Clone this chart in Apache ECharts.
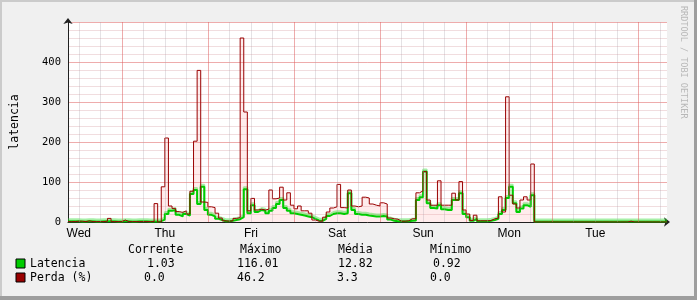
<!DOCTYPE html>
<html>
<head>
<meta charset="utf-8">
<script src="https://cdn.jsdelivr.net/npm/echarts@6/dist/echarts.min.js"></script>
<style>
html,body{margin:0;padding:0;background:#f0f0f0;}
#chart{width:697px;height:300px;}
</style>
</head>
<body>
<div id="chart"></div>
<script>
// ---- data (hourly, starting Wed 09:00; hours counted from Wed 00:00) ----
const startHour = 9;
const dayNames = ['Wed', 'Thu', 'Fri', 'Sat', 'Sun', 'Mon', 'Tue'];
const yTickLabels = [0, 100, 200, 300, 400];

const perda = [
  1, 1, 2, 2, 1, 3, 1, 1, 1, 1, 2, 9, 1, 1, 1, 5, 1, 1, 1, 1, 1, 1, 1, 1,
  46, 0, 88, 210, 40, 34, 26, 24, 28, 20, 77, 202, 379, 50, 49, 38, 36, 22, 10, 3,
  2, 3, 9, 11, 460, 275, 28, 59, 30, 32, 30, 32, 80, 58, 60, 87, 55, 73, 42, 33,
  40, 28, 28, 22, 5, 2, 2, 12, 25, 35, 38, 94, 36, 35, 80, 40, 38, 40, 62, 60,
  45, 42, 40, 48, 45, 10, 8, 7, 2, 2, 3, 8, 8, 73, 78, 126, 55, 42, 42, 103,
  42, 42, 42, 72, 55, 101, 30, 20, 4, 17, 3, 3, 3, 4, 8, 10, 63, 25, 313, 67,
  45, 35, 55, 63, 55, 145, 0, 0, 0, 0, 0, 0, 0, 0, 0, 0, 0, 0, 0, 0,
  0, 0, 0, 0, 0, 0, 0, 0, 0, 0, 0, 0, 2, 0, 0, 0, 0, 0, 0, 0,
  0, 0, 0, 0
];

const latencia = [
  2, 2, 2, 1, 1, 2, 2, 1, 1, 2, 2, 2, 2, 1, 1, 2, 2, 1, 1, 2, 2, 2, 1, 1,
  1, 2, 6, 20, 28, 30, 18, 14, 20, 16, 70, 80, 45, 88, 30, 18, 14, 8, 5, 2,
  2, 3, 5, 7, 12, 82, 22, 42, 25, 30, 28, 22, 28, 35, 45, 55, 35, 28, 22, 20,
  18, 16, 14, 12, 8, 4, 3, 8, 15, 20, 22, 22, 20, 22, 72, 30, 20, 18, 18, 16,
  15, 14, 14, 15, 14, 6, 3, 2, 2, 2, 2, 3, 4, 55, 62, 126, 47, 35, 34, 42,
  32, 30, 30, 55, 55, 72, 20, 12, 3, 8, 2, 2, 2, 3, 5, 8, 20, 30, 60, 88,
  47, 25, 34, 42, 38, 67, 1, 1, 1, 1, 1, 1, 1, 1, 1, 1, 1, 1, 1, 1,
  1, 1, 1, 1, 1, 1, 1, 1, 1, 1, 1, 1, 1, 1, 1, 1, 1, 1, 1, 1,
  1, 1, 1, 1
];

const statHeaders = ['Corrente', 'Máximo', 'Média', 'Mínimo'];
const latenciaStats = ['1.03', '116.01', '12.82', '0.92'];
const perdaStats = ['0.0', '46.2', '3.3', '0.0'];
const seriesNames = ['Latencia', 'Perda (%)'];

// ---- build ----
const endHour = startHour + perda.length - 1;
const toPts = arr => arr.map((v, i) => [startHour + i, v]);
const perdaPts = toPts(perda);
const latPts = toPts(latencia);

const mono = "'DejaVu Sans Mono', monospace";

// vertical grid lines (every 6h minor, every 24h major)
const vLines = [];
for (let h = 12; h <= endHour; h += 6) {
  const major = h % 24 === 0;
  vLines.push({
    xAxis: h,
    lineStyle: major
      ? { color: 'rgba(222,90,90,0.5)', width: 1, type: 'solid' }
      : { color: 'rgba(170,160,170,0.3)', width: 1, type: 'solid' }
  });
}
const dayLabelValues = dayNames.map((d, i) => 12 + 24 * i);

const chart = echarts.init(document.getElementById('chart'), null, { renderer: 'canvas' });

const colX = [128, 240, 338, 430];
const latX = [147, 237, 338, 433];
const perX = [144, 237, 337, 430];
const gtext = (x, y, t, extra) => ({
  type: 'text', x: x, y: y,
  style: Object.assign({ text: t, font: '11.5px ' + mono, fill: '#000', textVerticalAlign: 'middle' }, extra || {})
});

const graphics = [
  { type: 'rect', shape: { x: 0, y: 0, width: 697, height: 2 }, style: { fill: '#cbcbcb' }, z: 0 },
  { type: 'rect', shape: { x: 0, y: 0, width: 2, height: 300 }, style: { fill: '#cbcbcb' }, z: 0 },
  { type: 'rect', shape: { x: 0, y: 296, width: 697, height: 4 }, style: { fill: '#9e9e9e' }, z: 0 },
  { type: 'rect', shape: { x: 694, y: 0, width: 3, height: 300 }, style: { fill: '#9e9e9e' }, z: 0 },
  {
    type: 'text', x: 683, y: 6, rotation: -Math.PI / 2,
    style: { text: 'RRDTOOL / TOBI OETIKER', font: '8.5px ' + mono, fill: '#b8b8b8', textVerticalAlign: 'middle' }
  }
];
statHeaders.forEach((h, i) => graphics.push(gtext(colX[i], 250, h)));
graphics.push({ type: 'rect', shape: { x: 16, y: 259, width: 9, height: 9 }, style: { fill: '#00cc00', stroke: '#000', lineWidth: 1 } });
graphics.push({ type: 'rect', shape: { x: 16, y: 273, width: 9, height: 9 }, style: { fill: '#990000', stroke: '#000', lineWidth: 1 } });
graphics.push(gtext(30, 264, seriesNames[0]));
graphics.push(gtext(30, 278, seriesNames[1]));
latenciaStats.forEach((s, i) => graphics.push(gtext(latX[i], 264, s)));
perdaStats.forEach((s, i) => graphics.push(gtext(perX[i], 278, s)));

chart.setOption({
  backgroundColor: '#f0f0f0',
  animation: false,
  grid: {
    left: 68, top: 22, width: 599, height: 200, show: true, backgroundColor: '#ffffff', borderWidth: 0,
    containLabel: false, outerBoundsMode: 'none'
  },
  xAxis: {
    type: 'value', min: startHour, max: endHour,
    axisLine: { show: true, lineStyle: { color: '#202020', width: 1 }, symbol: ['none', 'arrow'], symbolSize: [7, 6], symbolOffset: [0, 3] },
    axisTick: { show: false },
    splitLine: { show: false },
    axisLabel: {
      customValues: dayLabelValues,
      formatter: v => dayNames[Math.round((v - 12) / 24)] || '',
      font: '10px ' + mono, color: '#000', margin: 6
    }
  },
  yAxis: {
    type: 'value', min: 0, max: 500, interval: 100,
    name: 'latencia', nameLocation: 'middle', nameRotate: 90, nameGap: 47,
    nameTextStyle: { fontFamily: 'DejaVu Sans Mono', fontSize: 11.5, color: '#000' },
    axisLine: { show: true, lineStyle: { color: '#202020', width: 1 }, symbol: ['none', 'arrow'], symbolSize: [7, 6], symbolOffset: [0, 4] },
    axisTick: { show: false },
    axisLabel: {
      formatter: v => (yTickLabels.indexOf(v) >= 0 ? String(v) : ''),
      fontFamily: 'DejaVu Sans Mono', fontSize: 10.5, color: '#000', margin: 7
    },
    splitLine: { show: true, lineStyle: { color: 'rgba(222,90,90,0.5)', width: 1 } },
    minorTick: { show: false, splitNumber: 5 },
    minorSplitLine: { show: true, lineStyle: { color: 'rgba(210,150,155,0.32)', width: 1 } }
  },
  graphic: graphics,
  series: [
    {
      type: 'line', data: [], z: 1, silent: true,
      markLine: { silent: true, symbol: 'none', label: { show: false }, animation: false, data: vLines }
    },
    {
      name: seriesNames[1] + ' area', type: 'line', step: 'end', data: perdaPts, showSymbol: false, z: 2,
      lineStyle: { width: 0 }, areaStyle: { color: 'rgba(255,150,150,0.25)', origin: 0 }, silent: true
    },
    {
      name: seriesNames[0], type: 'line', step: 'end', data: latPts, showSymbol: false, z: 3,
      lineStyle: {
        color: '#00cc00', width: 2,
        shadowColor: 'rgba(60,220,60,0.45)', shadowBlur: 0, shadowOffsetY: -2
      },
      silent: true
    },
    {
      name: seriesNames[1], type: 'line', step: 'end', data: perdaPts, showSymbol: false, z: 4,
      lineStyle: { color: '#990000', width: 1 }, silent: true
    }
  ]
});
</script>
</body>
</html>
